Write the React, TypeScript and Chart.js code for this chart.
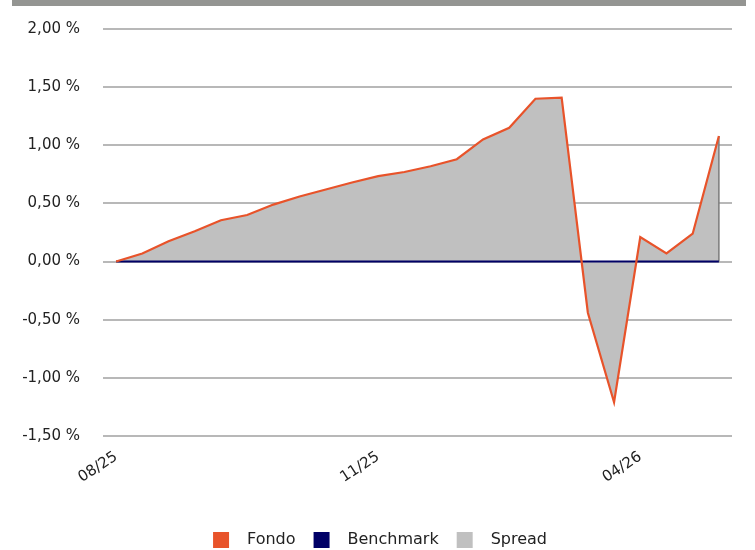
import React, { useEffect, useRef } from 'react';
import { Chart, registerables } from 'chart.js';

Chart.register(...registerables);

const categories = ['08/25', '', '', '', '', '', '', '', '', '', '11/25', '', '', '', '', '', '', '', '', '', '04/26', '', '', ''];
const fondo = [0.0, 0.07, 0.175, 0.26, 0.355, 0.4, 0.49, 0.56, 0.62, 0.68, 0.735, 0.77, 0.82, 0.88, 1.05, 1.15, 1.4, 1.41, -0.44, -1.21, 0.21, 0.07, 0.24, 1.08];
const benchmark = [0, 0, 0, 0, 0, 0, 0, 0, 0, 0, 0, 0, 0, 0, 0, 0, 0, 0, 0, 0, 0, 0, 0, 0];
const spread = [0.0, 0.07, 0.175, 0.26, 0.355, 0.4, 0.49, 0.56, 0.62, 0.68, 0.735, 0.77, 0.82, 0.88, 1.05, 1.15, 1.4, 1.41, -0.44, -1.21, 0.21, 0.07, 0.24, 1.08];
const seriesNames = ['Fondo', 'Benchmark', 'Spread'];
const seriesColors = ['#e8532a', '#000066', '#c0c0c0'];
const yMin = -1.5;
const yMax = 2;
const yStep = 0.5;

function makeSwatch(color: string) {
  const c = document.createElement('canvas');
  c.width = 40;
  c.height = 16;
  const g = c.getContext('2d');
  if (g) {
    g.fillStyle = color;
    g.fillRect(14, 0, 16, 16);
  }
  return c;
}

const spreadEdge = {
  id: 'spreadEdge',
  afterDatasetDraw(chart: any, args: any) {
    if (args.index !== 2) return;
    const meta = chart.getDatasetMeta(2);
    const last = meta.data[meta.data.length - 1];
    if (!last) return;
    const y0 = chart.scales.y.getPixelForValue(0);
    const ctx = chart.ctx;
    ctx.save();
    ctx.strokeStyle = '#7a7a7a';
    ctx.lineWidth = 1.5;
    ctx.beginPath();
    ctx.moveTo(last.x, last.y);
    ctx.lineTo(last.x, y0);
    ctx.stroke();
    ctx.restore();
  },
};

export default function App() {
  const ref = useRef<HTMLCanvasElement | null>(null);

  useEffect(() => {
    if (!ref.current) return;
    Chart.defaults.font.family = '"DejaVu Sans", Verdana, sans-serif';
    const swatches = seriesColors.map(makeSwatch);
    const chart = new Chart(ref.current, {
      type: 'line',
      data: {
        labels: categories,
        datasets: [
          {
            label: seriesNames[0],
            data: fondo,
            borderColor: seriesColors[0],
            backgroundColor: seriesColors[0],
            borderWidth: 2.2,
            pointRadius: 0,
            tension: 0,
            fill: false,
          },
          {
            label: seriesNames[1],
            data: benchmark,
            borderColor: seriesColors[1],
            backgroundColor: seriesColors[1],
            borderWidth: 2,
            pointRadius: 0,
            tension: 0,
            fill: false,
          },
          {
            label: seriesNames[2],
            data: spread,
            borderColor: 'rgba(0,0,0,0)',
            backgroundColor: seriesColors[2],
            borderWidth: 0,
            pointRadius: 0,
            tension: 0,
            fill: 'origin',
          },
        ],
      },
      options: {
        responsive: false,
        animation: false,
        layout: { padding: { top: 29, right: 23, bottom: -8, left: 14 } },
        plugins: {
          tooltip: { enabled: false },
          legend: {
            position: 'bottom',
            labels: {
              usePointStyle: true,
              pointStyleWidth: 40,
              boxHeight: 16,
              padding: 4,
              color: '#222',
              font: { size: 16 },
              generateLabels: (ch: any) => {
                const items = (Chart.defaults.plugins.legend.labels as any).generateLabels(ch);
                return items.map((it: any) => ({ ...it, pointStyle: swatches[it.datasetIndex], lineWidth: 0 }));
              },
            },
          },
        },
        scales: {
          x: {
            offset: true,
            grid: { display: false, drawTicks: false },
            border: { display: false },
            ticks: {
              autoSkip: false,
              minRotation: 33,
              maxRotation: 33,
              padding: 12,
              color: '#222',
              font: { size: 15 },
            },
            afterFit: (s: any) => {
              s.height = 92;
            },
          },
          y: {
            min: yMin,
            max: yMax,
            grid: { color: '#b8b8b8', lineWidth: 2, drawTicks: false },
            border: { display: false },
            ticks: {
              stepSize: yStep,
              padding: 23,
              color: '#222',
              font: { size: 15 },
              callback: (v: any) => Number(v).toFixed(2).replace('.', ',') + ' %',
            },
            afterFit: (s: any) => {
              s.width = 89;
              s.paddingTop = 0;
              s.paddingBottom = 0;
            },
          },
        },
      },
      plugins: [spreadEdge],
    });
    return () => chart.destroy();
  }, []);

  return (
    <div style={{ position: 'absolute', left: 0, top: 0, width: 755, height: 550, background: '#fff' }}>
      <div style={{ position: 'absolute', left: 12, top: 0, width: 734, height: 6, background: '#949592' }} />
      <canvas ref={ref} width={755} height={550} style={{ position: 'absolute', left: 0, top: 0, display: 'block' }} />
    </div>
  );
}
